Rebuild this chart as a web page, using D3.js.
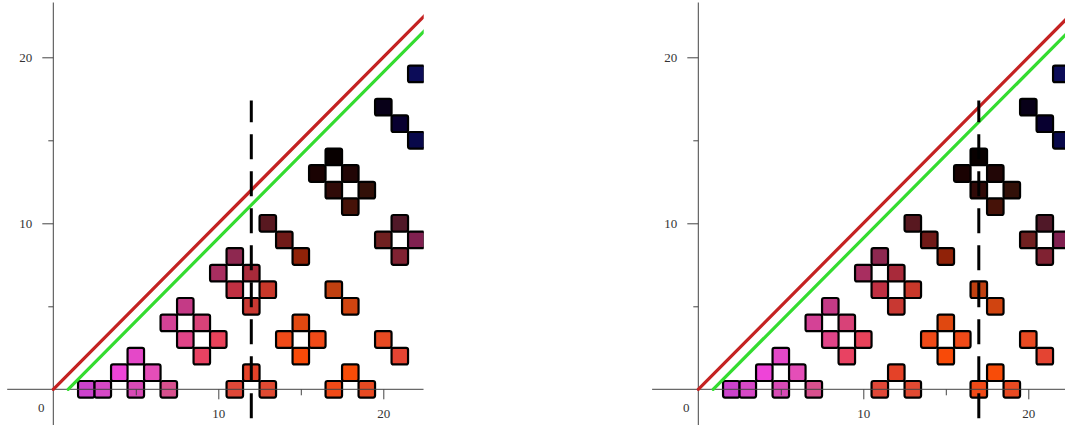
<!DOCTYPE html>
<html>
<head>
<meta charset="utf-8">
<script src="https://cdn.jsdelivr.net/npm/d3@7"></script>
<style>
  html, body { margin: 0; padding: 0; background: #fff; }
  svg { display: block; }
</style>
</head>
<body>
<svg id="chart" width="1065" height="425"></svg>
<script>
// Occupied lattice cells (x, y) and their fill colours
const cellX = [2, 3, 4, 5, 5, 6, 7,
               8, 7, 9, 8, 10, 9,
               11, 10, 12, 11, 13, 12,
               13, 14, 15,
               11, 12, 13,
               15, 14, 16, 15,
               17, 18,
               17, 18, 19,
               20, 21,
               17, 16, 18, 17, 19, 18,
               21, 20, 22, 21,
               20, 21, 22, 22];
const cellY = [0, 0, 1, 2, 0, 1, 0,
               5, 4, 4, 3, 3, 2,
               8, 7, 7, 6, 6, 5,
               10, 9, 8,
               0, 1, 0,
               4, 3, 3, 2,
               6, 5,
               0, 1, 0,
               3, 2,
               14, 13, 13, 12, 12, 11,
               10, 9, 9, 8,
               17, 16, 15, 19];
const cellFill = ["#cc42cc", "#d648c6", "#ee44d8", "#e448c8", "#d84ab6", "#e44eb8", "#d8508e",
                  "#c43a86", "#d44296", "#d84278", "#e04488", "#e8425a", "#e84262",
                  "#8e2850", "#a82e60", "#a82a3a", "#c03042", "#c8382a", "#c83832",
                  "#581820", "#701a18", "#902208",
                  "#e04838", "#e44228", "#e04a32",
                  "#e04810", "#f04a18", "#f04a18", "#f84a08",
                  "#c04010", "#d04410",
                  "#f04a18", "#f84c08", "#e84a22",
                  "#e84a22", "#e44432",
                  "#080000", "#1a0202", "#220606", "#300a08", "#321008", "#461208",
                  "#501828", "#702020", "#802050", "#802232",
                  "#080018", "#080030", "#08084a", "#0c0c58"];

// Guide lines: y = x and the parallel line shifted right
const redLine = { x0: 0, slope: 1 };
const greenLine = { x0: 0.9, slope: 1 };
// Vertical marker position for each panel
const markerX = [12, 17];
const markerTop = 17.4;
const markerBottom = -1.75;

const xMajor = [10, 20], xMinor = [5, 15];
const yMajor = [10, 20], yMinor = [5, 15];

const svg = d3.select("#chart");
const panelOffsets = [0, 645];

panelOffsets.forEach((dx, i) => {
  const x = d3.scaleLinear().domain([0, 20]).range([53.3 + dx, 383.3 + dx]);
  const y = d3.scaleLinear().domain([0, 20]).range([389.3, 57.3]);
  const unit = x(1) - x(0);
  const xMin = -2.8, xMax = 22.45, yMin = -2.2, yMax = 23.3;

  const clipId = "clip" + i;
  svg.append("clipPath").attr("id", clipId)
    .append("rect")
    .attr("x", x(xMin)).attr("y", 0)
    .attr("width", x(xMax) - x(xMin)).attr("height", 425);

  const g = svg.append("g").attr("clip-path", `url(#${clipId})`);

  // cells
  g.append("g").selectAll("rect")
    .data(cellX.map((cx, k) => ({ x: cx, y: cellY[k], c: cellFill[k] })))
    .join("rect")
    .attr("x", d => x(d.x - 0.5))
    .attr("y", d => y(d.y + 0.5))
    .attr("width", unit)
    .attr("height", y(0) - y(1))
    .attr("rx", 2)
    .attr("fill", d => d.c)
    .attr("stroke", "#000")
    .attr("stroke-width", 2.2);

  // axis lines
  const axisColor = "#444";
  g.append("line")
    .attr("x1", x(xMin)).attr("x2", x(xMax))
    .attr("y1", y(0)).attr("y2", y(0))
    .attr("stroke", axisColor).attr("stroke-width", 1);
  g.append("line")
    .attr("x1", x(0)).attr("x2", x(0))
    .attr("y1", y(yMax)).attr("y2", y(yMin))
    .attr("stroke", axisColor).attr("stroke-width", 1);

  const styleAxis = sel => {
    sel.select(".domain").remove();
    sel.selectAll(".tick line").attr("stroke", axisColor);
    sel.selectAll(".tick text")
      .attr("fill", "#333")
      .attr("font-family", "'Liberation Serif', 'DejaVu Serif', serif")
      .attr("font-size", 13);
  };

  g.append("g").attr("transform", `translate(0,${y(0)})`)
    .call(d3.axisBottom(x).tickValues(xMajor).tickSize(10).tickPadding(9).tickFormat(d3.format("d")))
    .call(styleAxis);
  g.append("g").attr("transform", `translate(0,${y(0)})`)
    .call(d3.axisBottom(x).tickValues(xMinor).tickSize(6).tickFormat(""))
    .call(styleAxis);
  g.append("g").attr("transform", `translate(${x(0)},0)`)
    .call(d3.axisLeft(y).tickValues(yMajor).tickSize(11).tickPadding(10).tickFormat(d3.format("d")))
    .call(styleAxis);
  g.append("g").attr("transform", `translate(${x(0)},0)`)
    .call(d3.axisLeft(y).tickValues(yMinor).tickSize(5).tickFormat(""))
    .call(styleAxis);

  // origin label
  g.append("text")
    .attr("x", x(0) - 12).attr("y", y(0) + 23)
    .attr("text-anchor", "middle")
    .attr("fill", "#333")
    .attr("font-family", "'Liberation Serif', 'DejaVu Serif', serif")
    .attr("font-size", 13)
    .text("0");

  // diagonal guide lines
  const diag = (ln, color) => {
    const xEnd = 24;
    g.append("line")
      .attr("x1", x(ln.x0)).attr("y1", y(0))
      .attr("x2", x(xEnd)).attr("y2", y((xEnd - ln.x0) * ln.slope))
      .attr("stroke", color).attr("stroke-width", 3.2)
      .attr("stroke-linecap", "round");
  };
  diag(redLine, "#c42222");
  diag(greenLine, "#34dc30");

  // dashed vertical marker, dashes laid out from the bottom end
  g.append("line")
    .attr("x1", x(markerX[i])).attr("x2", x(markerX[i]))
    .attr("y1", y(markerBottom)).attr("y2", y(markerTop))
    .attr("stroke", "#000").attr("stroke-width", 3)
    .attr("stroke-dasharray", "25,12");
});
</script>
</body>
</html>
